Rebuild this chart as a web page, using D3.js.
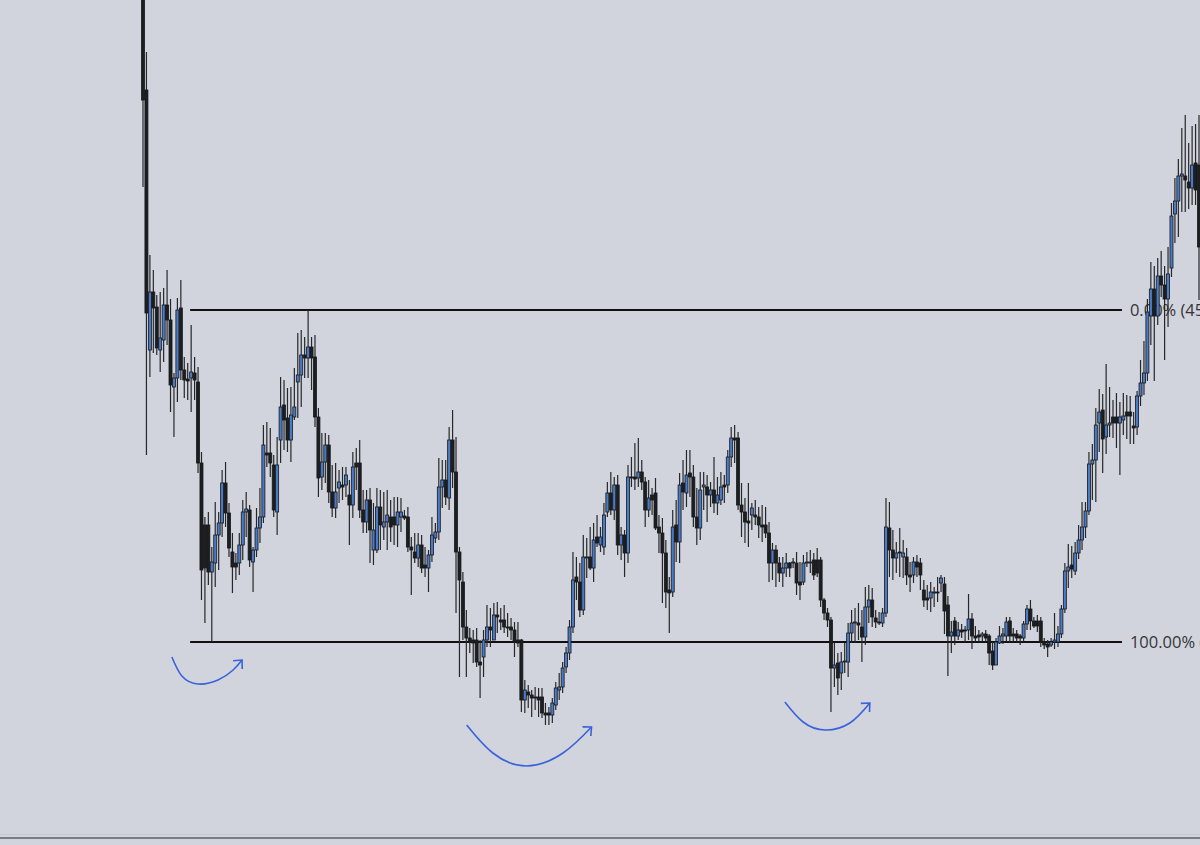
<!DOCTYPE html>
<html>
<head>
<meta charset="utf-8">
<script src="https://cdn.jsdelivr.net/npm/d3@7"></script>
<style>
  html, body { margin: 0; padding: 0; background: #d1d4dc; overflow: hidden; }
</style>
</head>
<body>
<svg id="chart" width="1200" height="845"></svg>
<script>
'use strict'

// ------ Data: OHLC (price units) ------
const opens = [855,755,495,553,538,495,505,540,525,458,467,537,475,466,467,472,463,382,320,320,
  273,282,310,322,362,332,293,282,282,300,333,335,283,295,317,328,392,392,380,333,
  405,440,427,405,428,463,470,490,487,498,488,428,368,383,400,353,337,357,360,360,
  350,340,382,382,335,323,345,295,295,338,318,323,328,328,320,328,329,328,298,293,
  287,300,280,277,290,307,313,358,365,347,405,373,293,263,218,207,205,205,183,188,
  205,218,205,230,225,225,218,218,215,205,205,145,153,150,148,148,148,132,132,130,
  140,155,158,178,192,218,268,263,235,287,288,277,308,300,298,333,352,335,360,300,
  310,292,368,368,367,373,363,335,350,352,318,312,292,255,253,320,303,362,352,372,
  368,328,317,358,358,350,355,342,345,360,360,388,407,407,340,333,324,330,330,328,
  320,320,312,282,295,282,272,277,282,282,282,263,263,282,282,285,285,285,245,232,
  225,177,182,172,183,183,212,222,222,218,208,238,245,227,223,222,232,317,295,287,
  293,288,288,270,270,283,282,255,247,247,252,253,262,261,240,209,224,209,215,215,
  215,226,209,210,209,211,209,194,180,202,209,209,224,211,211,209,207,221,236,224,
  224,224,203,201,200,203,203,211,236,274,280,274,292,305,318,334,381,385,422,435,
  408,420,428,428,422,425,433,433,419,418,449,462,472,529,556,529,569,560,546,577,
  631,644,669,669,663,657,682,680]
const highs = [875,793,590,575,550,553,557,575,546,472,547,565,488,482,520,488,478,393,328,333,
  298,343,333,375,383,342,312,292,312,345,353,340,298,337,357,420,423,417,390,408,
  468,465,457,458,477,512,515,508,535,508,510,437,412,412,410,380,382,375,378,378,
  365,393,397,405,355,355,357,342,357,355,353,355,345,348,348,347,335,338,308,312,
  312,310,298,295,328,322,387,385,385,418,435,408,298,273,235,217,215,217,205,215,
  240,237,242,243,237,240,232,227,223,223,206,165,160,155,158,157,157,142,138,147,
  163,172,183,198,225,293,288,282,310,307,318,322,330,318,342,363,373,368,370,318,
  315,380,388,402,407,385,368,365,357,367,330,327,305,268,335,345,372,385,395,395,
  380,357,373,373,370,363,388,368,373,370,395,418,420,413,362,347,362,342,345,338,
  340,338,323,302,300,288,288,292,283,287,293,283,290,293,295,292,297,288,247,237,
  228,202,192,193,202,222,235,237,242,235,258,260,257,235,233,237,347,343,315,303,
  317,305,297,283,288,290,287,265,260,263,258,268,270,268,249,224,228,223,221,219,
  251,232,219,215,213,215,211,203,207,219,217,228,228,217,215,211,224,240,245,228,
  230,228,207,205,207,232,219,240,282,301,299,303,320,343,343,393,401,437,456,451,
  481,458,445,452,443,452,450,449,433,454,485,504,546,583,579,587,594,579,598,642,
  667,686,717,730,702,719,721,730]
const lows = [658,390,468,492,490,473,483,500,433,408,443,465,447,445,433,445,372,245,222,260,
  203,258,275,308,318,288,252,265,270,285,308,278,253,288,302,322,378,368,328,310,
  382,395,393,383,425,427,438,467,467,455,418,348,355,362,342,328,327,342,345,348,
  300,327,355,327,312,312,282,280,292,295,305,295,303,300,298,313,325,293,250,282,
  278,272,268,253,283,302,305,337,340,335,357,232,168,205,168,192,182,178,147,168,
  198,198,205,212,215,212,208,205,188,198,133,132,137,128,135,128,127,120,120,122,
  135,145,152,172,185,212,245,228,230,267,275,263,298,293,290,328,330,325,290,285,
  268,282,358,355,358,355,318,328,330,315,292,242,237,212,248,283,282,335,338,348,
  318,300,305,335,323,338,332,330,340,342,352,378,382,335,308,302,298,315,320,307,
  303,307,263,265,258,263,258,268,268,277,250,245,260,278,272,265,268,238,225,218,
  133,158,150,155,172,168,202,202,205,183,200,222,218,217,220,218,228,268,265,272,
  268,267,260,253,262,268,255,238,235,233,238,243,253,211,169,192,200,205,207,203,
  205,196,203,203,203,203,180,175,180,201,201,203,203,203,203,200,203,215,215,217,
  213,198,196,188,198,196,198,207,232,257,267,270,286,295,307,330,345,343,393,372,
  391,408,407,397,370,410,406,401,401,410,439,450,464,500,464,520,548,485,518,568,
  602,608,633,633,636,640,640,545]
const closes = [745,532,553,537,497,507,540,525,460,467,535,475,465,464,473,465,382,275,277,273,
  283,310,322,362,332,297,278,278,300,333,336,285,295,317,328,400,390,382,335,380,
  438,425,405,430,438,470,490,487,498,487,428,367,383,400,353,337,353,363,358,370,
  340,378,378,335,323,345,315,315,338,320,323,330,318,320,333,333,327,298,295,287,
  300,277,277,290,310,313,358,365,348,405,373,293,265,218,207,203,202,183,180,205,
  218,215,230,228,223,218,217,215,203,202,145,155,150,147,147,145,132,130,130,142,
  157,158,177,192,218,265,263,235,288,288,277,305,302,308,330,352,335,360,300,310,
  292,368,367,366,373,363,335,347,345,317,312,292,253,252,318,303,360,353,370,368,
  328,317,355,360,350,355,342,350,358,358,388,407,405,340,333,323,322,337,328,320,
  318,312,282,295,282,272,277,282,277,283,262,260,282,283,283,270,272,245,232,225,
  177,180,167,183,184,212,222,223,220,208,238,245,228,223,222,232,318,295,287,292,
  292,292,270,268,283,278,270,245,245,253,253,252,267,234,209,213,209,215,213,214,
  226,209,207,208,211,207,192,180,203,209,211,223,209,209,207,207,221,236,224,219,
  219,203,200,198,203,205,211,236,274,278,276,292,305,318,334,381,385,420,433,406,
  420,422,422,422,428,429,429,429,417,449,462,472,533,556,529,569,560,546,571,629,
  644,669,671,665,657,680,655,598]

// Fibonacci retracement levels (price) and where the tool was drawn (candle index)
const fibPrices = [535, 203]
const fibLabels = ['0.00% (45.35)', '100.00% (17.20)']
const fibFrom = 13.7
const fibTo = 284.6

// Hand drawn arrows: [candle index, price]
const arrows = [
  [[8.4, 188], [11.3, 169], [16, 161], [21.8, 165], [26.2, 175], [28.8, 185]],
  [[94.1, 120], [101.7, 92], [111.5, 79], [122.1, 92], [130.4, 118]],
  [[186.6, 143], [191.9, 123], [198.3, 115], [205.5, 122], [211.3, 142]]
]

// ------ Setup ------
const W = 1200
const H = 845
const svg = d3.select('#chart')

svg.append('rect').attr('width', W).attr('height', H).attr('fill', '#d1d4dc')

const x = d3.scaleLinear().domain([0, opens.length - 1]).range([143, 1199])
const y = d3.scaleLinear().domain([0, 845]).range([845, 0])

// bottom pane border
svg.append('line').attr('x1', 0).attr('x2', W).attr('y1', 834.5).attr('y2', 834.5)
  .attr('stroke', '#c6c9d0').attr('stroke-width', 1)
svg.append('line').attr('x1', 0).attr('x2', W).attr('y1', 838).attr('y2', 838)
  .attr('stroke', '#5d616a').attr('stroke-width', 1.6)

// ------ Fib levels ------
const fib = svg.append('g')
fibPrices.forEach(function (p, i) {
  fib.append('line')
    .attr('x1', x(fibFrom)).attr('x2', x(fibTo))
    .attr('y1', y(p)).attr('y2', y(p))
    .attr('stroke', '#111').attr('stroke-width', 2.2)
  fib.append('text')
    .attr('x', x(fibTo) + 8).attr('y', y(p) + 6)
    .attr('font-family', '"Open Sans", sans-serif')
    .attr('font-size', 16.5)
    .attr('fill', '#333539')
    .text(fibLabels[i])
})

// ------ Candles ------
const idx = d3.range(opens.length)
const bw = 3
const candles = svg.append('g').selectAll('g').data(idx).join('g')

candles.append('line')
  .attr('x1', function (i) { return x(i) }).attr('x2', function (i) { return x(i) })
  .attr('y1', function (i) { return y(highs[i]) }).attr('y2', function (i) { return y(lows[i]) })
  .attr('stroke', '#26272a').attr('stroke-width', 1.2)

candles.append('rect')
  .attr('x', function (i) { return x(i) - bw / 2 })
  .attr('width', bw)
  .attr('y', function (i) { return y(Math.max(opens[i], closes[i])) })
  .attr('height', function (i) { return Math.max(1, Math.abs(y(opens[i]) - y(closes[i]))) })
  .attr('fill', function (i) { return closes[i] >= opens[i] ? '#4a7bc4' : '#1d1e20' })
  .attr('stroke', '#15171b').attr('stroke-width', 0.8)

// ------ Arrows ------
const arrowLine = d3.line()
  .x(function (d) { return x(d[0]) })
  .y(function (d) { return y(d[1]) })
  .curve(d3.curveNatural)

arrows.forEach(function (pts) {
  svg.append('path').datum(pts).attr('d', arrowLine)
    .attr('fill', 'none').attr('stroke', '#3a62dc').attr('stroke-width', 1.6)
  const a = pts[pts.length - 2]
  const b = pts[pts.length - 1]
  const tx = x(b[0])
  const ty = y(b[1])
  const ang = Math.atan2(ty - y(a[1]), tx - x(a[0])) + Math.PI
  const len = 9
  const p1 = [tx + len * Math.cos(ang - 0.75), ty + len * Math.sin(ang - 0.75)]
  const p2 = [tx + len * Math.cos(ang + 0.75), ty + len * Math.sin(ang + 0.75)]
  svg.append('path')
    .attr('d', 'M' + p1 + 'L' + [tx, ty] + 'L' + p2)
    .attr('fill', 'none').attr('stroke', '#3a62dc').attr('stroke-width', 1.6)
})
</script>
</body>
</html>
